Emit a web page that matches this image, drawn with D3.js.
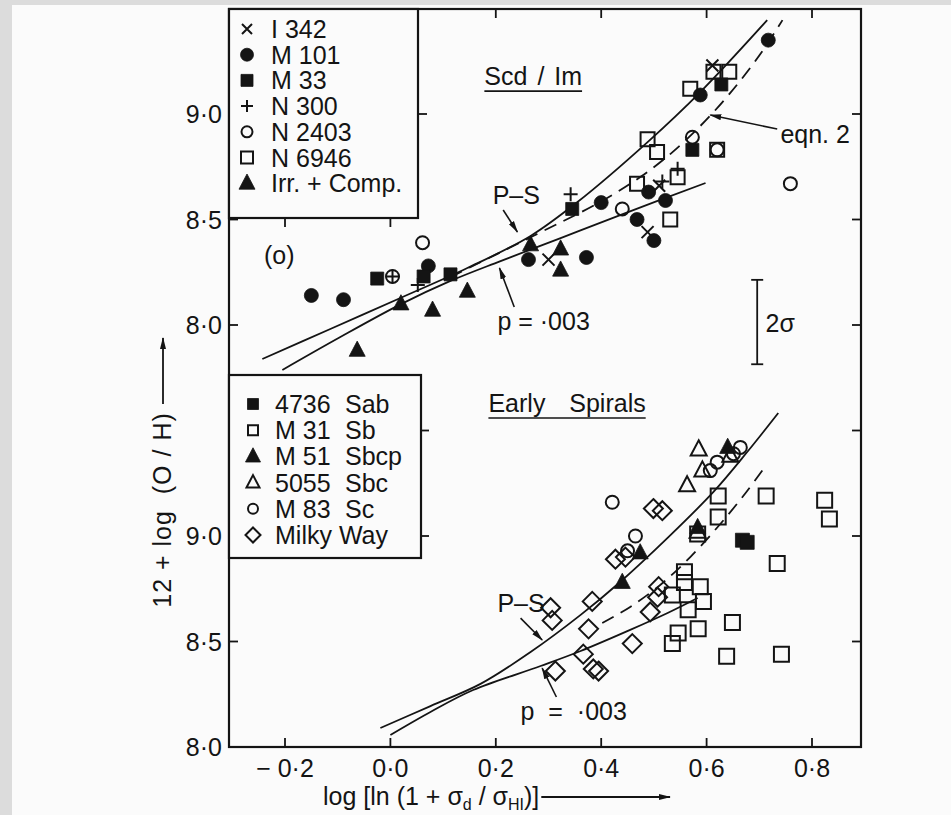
<!DOCTYPE html>
<html>
<head>
<meta charset="utf-8">
<script src="https://cdn.jsdelivr.net/npm/d3@7"></script>
<style>
  body { margin: 0; background: #dcdcdc; }
  svg { display: block; }
  text { font-family: "Liberation Sans Narrow", "Liberation Sans", Arial, sans-serif; fill: #141414; }
</style>
</head>
<body>
<svg id="plot" width="951" height="815"></svg>
<script>
(function (d3) {
  'use strict';

  // axis ticks
  const xTicks = [-0.2, 0.0, 0.2, 0.4, 0.6, 0.8];
  const yTickLabels = [8.0, 8.5, 9.0];
  const upperRightTicks = [8.0, 8.5, 9.0];
  const lowerRightTicks = [8.5, 9.0, 9.5];
  const topTicks = [0.2, 0.4, 0.6, 0.8];

  // Scd / Im panel : [log ln(1 + sd/sHI), 12 + log(O/H)]
  const i342 = [[0.300, 8.31], [0.488, 8.44], [0.611, 9.23], [0.510, 8.66]];
  const m101 = [[-0.150, 8.14], [-0.089, 8.12], [0.072, 8.28], [0.262, 8.31], [0.372, 8.32],
    [0.400, 8.58], [0.490, 8.63], [0.522, 8.59], [0.468, 8.50], [0.500, 8.40],
    [0.588, 9.09], [0.717, 9.35]];
  const m33 = [[-0.025, 8.22], [0.063, 8.23], [0.114, 8.24], [0.345, 8.55], [0.628, 9.14], [0.573, 8.83]];
  const n300 = [[0.004, 8.23], [0.052, 8.19], [0.342, 8.62], [0.545, 8.74], [0.516, 8.68]];
  const n2403 = [[0.061, 8.39], [0.004, 8.23], [0.440, 8.55], [0.759, 8.67], [0.573, 8.89], [0.620, 8.83]];
  const n6946 = [[0.488, 8.88], [0.506, 8.82], [0.569, 9.12], [0.613, 9.20], [0.643, 9.20],
    [0.468, 8.67], [0.531, 8.50], [0.545, 8.70], [0.620, 8.83]];
  const irrComp = [[-0.063, 7.88], [0.020, 8.10], [0.080, 8.07], [0.146, 8.16], [0.266, 8.38],
    [0.323, 8.36], [0.323, 8.26]];

  const psUpper = [[-0.243, 7.839], [-0.114, 7.981], [0.019, 8.128], [0.146, 8.270], [0.266, 8.422],
    [0.355, 8.583], [0.488, 8.867], [0.588, 9.104], [0.715, 9.445]];
  const p003Upper = [[-0.205, 7.787], [-0.095, 7.943], [0.021, 8.100], [0.114, 8.209], [0.209, 8.303],
    [0.323, 8.412], [0.436, 8.521], [0.598, 8.673]];
  const eqn2Upper = [[0.114, 8.227], [0.271, 8.422], [0.398, 8.583], [0.474, 8.701], [0.531, 8.810],
    [0.588, 8.943], [0.645, 9.100], [0.702, 9.284], [0.744, 9.445]];

  // Early spirals panel
  const ngc4736 = [[0.668, 8.98], [0.677, 8.97]];
  const m31 = [[0.622, 9.19], [0.622, 9.09], [0.713, 9.19], [0.824, 9.17], [0.833, 9.08],
    [0.734, 8.87], [0.583, 9.01], [0.558, 8.83], [0.558, 8.78], [0.588, 8.76], [0.535, 8.72],
    [0.594, 8.69], [0.565, 8.65], [0.584, 8.56], [0.546, 8.54], [0.535, 8.49], [0.649, 8.59],
    [0.638, 8.43], [0.742, 8.44]];
  const m51 = [[0.474, 8.92], [0.440, 8.78], [0.583, 9.04], [0.640, 9.42]];
  const ngc5055 = [[0.585, 9.41], [0.592, 9.31], [0.563, 9.24], [0.645, 9.38], [0.583, 9.02]];
  const m83 = [[0.421, 9.16], [0.664, 9.42], [0.620, 9.35], [0.607, 9.31], [0.465, 9.00],
    [0.450, 8.93], [0.651, 9.39]];
  const milkyWay = [[0.499, 9.13], [0.516, 9.12], [0.427, 8.89], [0.446, 8.90], [0.509, 8.76],
    [0.507, 8.71], [0.493, 8.64], [0.383, 8.69], [0.376, 8.56], [0.366, 8.44], [0.459, 8.49],
    [0.385, 8.37], [0.395, 8.36], [0.313, 8.36], [0.304, 8.66], [0.307, 8.60]];

  const psLower = [[-0.019, 8.090], [0.076, 8.194], [0.171, 8.299], [0.266, 8.450], [0.361, 8.626],
    [0.436, 8.782], [0.526, 8.991], [0.613, 9.209], [0.677, 9.398], [0.736, 9.583]];
  const p003Lower = [[0.000, 8.057], [0.076, 8.166], [0.157, 8.270], [0.285, 8.384], [0.361, 8.455],
    [0.455, 8.555], [0.526, 8.635], [0.583, 8.706]];
  const eqn2Lower = [[0.402, 8.588], [0.455, 8.664], [0.512, 8.768], [0.569, 8.900], [0.626, 9.057],
    [0.674, 9.204], [0.712, 9.332]];

  const sigma = 0.2;
  const panelOffset = 2.0;

  const ink = '#141414';
  const paper = '#fbfbfb';
  const svg = d3.select('svg#plot');
  const frame = { left: 229, right: 861, top: 9, bottom: 747 };

  const xScale = d3.scaleLinear().domain([-0.2, 0.8]).range([285, 812]);
  const yLower = d3.scaleLinear().domain([8.0, 9.0]).range([747, 536]);
  const yUpper = yLower.copy().domain([8.0 - panelOffset, 9.0 - panelOffset]);

  const fmt = v => (v < 0 ? '\u2212 ' : '') + Math.abs(v).toFixed(1).replace('.', '\u00b7');

  // paper
  svg.append('rect').attr('x', 12).attr('y', 5).attr('width', 939).attr('height', 810).attr('fill', paper);

  const defs = svg.append('defs');
  defs.append('marker')
      .attr('id', 'head')
      .attr('viewBox', '0 0 12 8')
      .attr('refX', 11).attr('refY', 4)
      .attr('markerWidth', 12).attr('markerHeight', 8)
      .attr('markerUnits', 'userSpaceOnUse')
      .attr('orient', 'auto')
    .append('path')
      .attr('d', 'M0,1L12,4L0,7Z')
      .attr('fill', ink);

  const g = svg.append('g');

  // ticks (inside)
  const tickLen = 9;
  const ticks = g.append('g').attr('stroke', ink).attr('stroke-width', 1.8);
  ticks.selectAll('.bt').data(xTicks).enter().append('line')
      .attr('x1', d => xScale(d)).attr('x2', d => xScale(d))
      .attr('y1', frame.bottom).attr('y2', frame.bottom - tickLen);
  ticks.selectAll('.tt').data(topTicks).enter().append('line')
      .attr('x1', d => xScale(d)).attr('x2', d => xScale(d))
      .attr('y1', frame.top).attr('y2', frame.top + tickLen);
  [yUpper, yLower].forEach(ys => {
    ticks.append('g').selectAll('line').data(yTickLabels).enter().append('line')
        .attr('x1', frame.left).attr('x2', frame.left + tickLen)
        .attr('y1', d => ys(d)).attr('y2', d => ys(d));
  });
  ticks.append('g').selectAll('line').data(upperRightTicks).enter().append('line')
      .attr('x1', frame.right).attr('x2', frame.right - tickLen)
      .attr('y1', d => yUpper(d)).attr('y2', d => yUpper(d));
  ticks.append('g').selectAll('line').data(lowerRightTicks).enter().append('line')
      .attr('x1', frame.right).attr('x2', frame.right - tickLen)
      .attr('y1', d => yLower(d)).attr('y2', d => yLower(d));

  // frame
  g.append('rect')
      .attr('x', frame.left).attr('y', frame.top)
      .attr('width', frame.right - frame.left).attr('height', frame.bottom - frame.top)
      .attr('fill', 'none').attr('stroke', ink).attr('stroke-width', 2.2);

  // tick labels
  const labels = g.append('g').attr('font-size', 25);
  labels.selectAll('.xl').data(xTicks).enter().append('text')
      .attr('x', d => xScale(d)).attr('y', 777)
      .attr('text-anchor', 'middle')
      .text(fmt);
  [yUpper, yLower].forEach(ys => {
    labels.append('g').selectAll('text').data(yTickLabels).enter().append('text')
        .attr('x', 222).attr('y', d => ys(d) + 9)
        .attr('text-anchor', 'end')
        .text(fmt);
  });

  // model curves
  const curve = ys => d3.line()
      .x(d => xScale(d[0]))
      .y(d => ys(d[1]))
      .curve(d3.curveCatmullRom.alpha(0.5));
  const curves = g.append('g').attr('fill', 'none').attr('stroke', ink).attr('stroke-width', 1.8);
  [[psUpper, yUpper, null], [p003Upper, yUpper, null], [eqn2Upper, yUpper, '13,8'],
   [psLower, yLower, null], [p003Lower, yLower, null], [eqn2Lower, yLower, '13,8']]
    .forEach(([pts, ys, dash]) => {
      curves.append('path')
          .attr('d', curve(ys)(pts))
          .attr('stroke-dasharray', dash);
    });

  // symbols
  const shapePath = (shape, s) => {
    switch (shape) {
      case 'x': return `M${-s},${-s}L${s},${s}M${-s},${s}L${s},${-s}`;
      case 'plus': return `M${-s},0L${s},0M0,${-s}L0,${s}`;
      case 'dot':
      case 'ocirc': return d3.symbol(d3.symbolCircle, Math.PI * s * s)();
      case 'sq':
      case 'osq': return `M${-s},${-s}H${s}V${s}H${-s}Z`;
      case 'tri':
      case 'otri': return `M0,${-s * 1.15}L${s},${s * 0.75}L${-s},${s * 0.75}Z`;
      case 'dia': return `M0,${-s}L${s},0L0,${s}L${-s},0Z`;
    }
  };
  const filled = shape => shape === 'dot' || shape === 'sq' || shape === 'tri';
  const styleMark = (sel, shape) => sel
      .attr('fill', filled(shape) ? ink : 'none')
      .attr('stroke', ink)
      .attr('stroke-width', filled(shape) ? 0.8 : 2);

  const upperSeries = [
    { name: 'I 342', shape: 'x', size: 6, key: 5, points: i342 },
    { name: 'M 101', shape: 'dot', size: 7, key: 6.5, points: m101 },
    { name: 'M 33', shape: 'sq', size: 6.5, key: 6, points: m33 },
    { name: 'N 300', shape: 'plus', size: 7, key: 6, points: n300 },
    { name: 'N 2403', shape: 'ocirc', size: 6.5, key: 5.5, points: n2403 },
    { name: 'N 6946', shape: 'osq', size: 7, key: 6, points: n6946 },
    { name: 'Irr. + Comp.', shape: 'tri', size: 8, key: 8, points: irrComp }
  ];
  const lowerSeries = [
    { name: '4736', type: 'Sab', shape: 'sq', size: 7, key: 5.5, points: ngc4736 },
    { name: 'M 31', type: 'Sb', shape: 'osq', size: 7.5, key: 5, points: m31 },
    { name: 'M 51', type: 'Sbcp', shape: 'tri', size: 8, key: 7.5, points: m51 },
    { name: '5055', type: 'Sbc', shape: 'otri', size: 8, key: 6.5, points: ngc5055 },
    { name: 'M 83', type: 'Sc', shape: 'ocirc', size: 6.5, key: 5, points: m83 },
    { name: 'Milky Way', type: '', shape: 'dia', size: 9.5, key: 7.5, points: milkyWay }
  ];

  const marks = g.append('g');
  const drawSeries = (series, ys) => series.forEach(sr => {
    marks.append('g').selectAll('path').data(sr.points).enter().append('path')
        .attr('transform', d => `translate(${xScale(d[0])},${ys(d[1])})`)
        .attr('d', shapePath(sr.shape, sr.size))
        .call(styleMark, sr.shape);
  });
  drawSeries(upperSeries, yUpper);
  drawSeries(lowerSeries, yLower);

  // legends
  const legend = (box, series, rowY, rowStep, symX, textX, typeX) => {
    const lg = g.append('g');
    lg.append('rect')
        .attr('x', box.x0).attr('y', box.y0)
        .attr('width', box.x1 - box.x0).attr('height', box.y1 - box.y0)
        .attr('fill', paper).attr('stroke', ink).attr('stroke-width', 2.2);
    const row = lg.selectAll('.row').data(series).enter().append('g')
        .attr('transform', (d, i) => `translate(0,${rowY + i * rowStep})`);
    row.append('path')
        .attr('transform', `translate(${symX},0)`)
        .attr('d', d => shapePath(d.shape, d.key))
        .each(function (d) { d3.select(this).call(styleMark, d.shape); });
    row.append('text')
        .attr('x', textX).attr('y', 9)
        .attr('font-size', 25)
        .text(d => d.name);
    if (typeX) {
      row.append('text')
          .attr('x', typeX).attr('y', 9)
          .attr('font-size', 25)
          .text(d => d.type);
    }
    return lg;
  };
  const upperLegend = legend({ x0: frame.left, y0: frame.top, x1: 418, y1: 218 },
    upperSeries, 29, 25.7, 247, 271);
  upperLegend.selectAll('.tk').data([-0.2, 0.0]).enter().append('line')
      .attr('x1', d => xScale(d)).attr('x2', d => xScale(d))
      .attr('y1', 218).attr('y2', 227)
      .attr('stroke', ink).attr('stroke-width', 1.8);
  upperLegend.append('line')
      .attr('x1', 418).attr('x2', 427)
      .attr('y1', yUpper(9.0)).attr('y2', yUpper(9.0))
      .attr('stroke', ink).attr('stroke-width', 1.8);

  const lowerLegend = legend({ x0: frame.left, y0: 375, x1: 421, y1: 558 },
    lowerSeries, 404, 26.2, 253, 275, 345);
  lowerLegend.selectAll('.tk').data([9.5, 9.0]).enter().append('line')
      .attr('x1', 421).attr('x2', 429)
      .attr('y1', d => yLower(d)).attr('y2', d => yLower(d))
      .attr('stroke', ink).attr('stroke-width', 1.8);

  // annotations
  const ann = g.append('g').attr('font-size', 25);
  const arrow = (x0, y0, x1, y1, ys) => ann.append('line')
      .attr('x1', xScale(x0)).attr('y1', ys(y0))
      .attr('x2', xScale(x1)).attr('y2', ys(y1))
      .attr('stroke', ink).attr('stroke-width', 1.6)
      .attr('marker-end', 'url(#head)');
  const label = (txt, x, y, ys, anchor) => ann.append('text')
      .attr('x', xScale(x)).attr('y', ys(y))
      .attr('text-anchor', anchor || 'start')
      .text(txt);

  const title1 = label('Scd / Im', 0.271, 9.137, yUpper, 'middle')
      .attr('word-spacing', 3);
  const title2 = label('Early  Spirals', 0.186, 9.588, yLower)
      .attr('word-spacing', 5).attr('xml:space', 'preserve');
  [title1, title2].forEach(t => {
    const b = t.node().getBBox();
    ann.append('line')
        .attr('x1', b.x).attr('x2', b.x + b.width)
        .attr('y1', +t.attr('y') + 6).attr('y2', +t.attr('y') + 6)
        .attr('stroke', ink).attr('stroke-width', 1.6);
  });

  label('eqn. 2', 0.740, 8.863, yUpper);
  arrow(0.734, 8.929, 0.607, 8.995, yUpper);
  label('P\u2013S', 0.194, 8.573, yUpper);
  arrow(0.214, 8.545, 0.241, 8.441, yUpper);
  label('p = \u00b7003', 0.203, 7.976, yUpper).attr('xml:space', 'preserve');
  arrow(0.235, 8.085, 0.207, 8.270, yUpper);
  label('(o)', -0.211, 8.289, yUpper, 'middle');

  label('P\u2013S', 0.203, 8.640, yLower);
  arrow(0.247, 8.611, 0.288, 8.507, yLower);
  label('p  =  \u00b7003', 0.247, 8.128, yLower).attr('xml:space', 'preserve');
  arrow(0.315, 8.237, 0.288, 8.374, yLower);

  // 2 sigma error bar
  const sx = xScale(0.696);
  const sc = 8.014;
  const bar = ann.append('g').attr('stroke', ink).attr('stroke-width', 1.8);
  bar.append('line').attr('x1', sx).attr('x2', sx)
      .attr('y1', yUpper(sc + sigma)).attr('y2', yUpper(sc - sigma));
  [sc + sigma, sc - sigma].forEach(v => bar.append('line')
      .attr('x1', sx - 6).attr('x2', sx + 6)
      .attr('y1', yUpper(v)).attr('y2', yUpper(v)));
  label('2\u03c3', 0.712, 7.967, yUpper);

  // axis titles
  const yTitle = svg.append('g').attr('transform', 'translate(171,510) rotate(-90)');
  yTitle.append('text')
      .attr('text-anchor', 'middle')
      .attr('font-size', 25)
      .attr('letter-spacing', 1)
      .attr('xml:space', 'preserve')
      .text('12 + log  (O / H)');
  svg.append('line')
      .attr('x1', 163).attr('x2', 163).attr('y1', 404).attr('y2', 338)
      .attr('stroke', ink).attr('stroke-width', 1.8)
      .attr('marker-end', 'url(#head)');

  const xTitle = svg.append('text')
      .attr('x', 323).attr('y', 805)
      .attr('font-size', 25)
      .attr('xml:space', 'preserve');
  xTitle.append('tspan').text('log [ln (1 + \u03c3');
  xTitle.append('tspan').attr('font-size', 16).attr('dy', 5).text('d');
  xTitle.append('tspan').attr('dy', -5).text(' / \u03c3');
  xTitle.append('tspan').attr('font-size', 16).attr('dy', 5).text('HI');
  xTitle.append('tspan').attr('dy', -5).text(')]');
  const xb = xTitle.node().getBBox();
  svg.append('line')
      .attr('x1', xb.x + xb.width + 2).attr('x2', 670).attr('y1', 797).attr('y2', 797)
      .attr('stroke', ink).attr('stroke-width', 1.8)
      .attr('marker-end', 'url(#head)');

}(d3));
</script>
</body>
</html>
